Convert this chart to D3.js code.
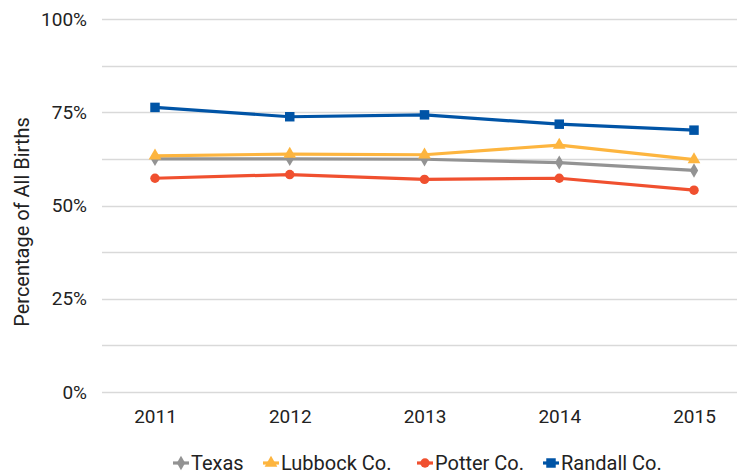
<!DOCTYPE html>
<html>
<head>
<meta charset="utf-8">
<script src="https://cdn.jsdelivr.net/npm/d3@7"></script>
<style>
  body { margin: 0; background: #fff; }
  #chart { width: 739px; height: 474px; font-family: Roboto, sans-serif; }
  text { fill: #222; }
</style>
</head>
<body>
<div id="chart"></div>
<script>
//Datos
let years = ['2011', '2012', '2013', '2014', '2015'];
let texas = [62.5, 62.5, 62.4, 61.5, 59.4];
let lubbock = [63.3, 63.8, 63.6, 66.2, 62.3];
let potter = [57.3, 58.3, 57.0, 57.3, 54.1];
let randall = [76.3, 73.8, 74.3, 71.8, 70.2];
let yTicks = [0, 25, 50, 75, 100];
let gridTicks = [0, 12.5, 25, 37.5, 50, 62.5, 75, 87.5, 100];

let series = [
    {name: 'Texas', values: texas, color: '#939393', symbol: d3.symbolDiamond, size: 60},
    {name: 'Lubbock Co.', values: lubbock, color: '#FDB53F', symbol: d3.symbolTriangle, size: 70},
    {name: 'Potter Co.', values: potter, color: '#F0502F', symbol: d3.symbolCircle, size: 70},
    {name: 'Randall Co.', values: randall, color: '#0054A6', symbol: d3.symbolSquare, size: 90}
];

let svg = d3.select('#chart').append('svg')
    .attr('width', 739)
    .attr('height', 474);

let plotLeft = 102, plotRight = 737;

//Escalas
let x = d3.scalePoint()
    .domain(years)
    .range([155, 694]);

let y = d3.scaleLinear()
    .domain([0, 100])
    .range([392, 19]);

//Rejilla
svg.append('g')
    .selectAll('line')
    .data(gridTicks)
    .enter()
    .append('line')
    .attr('x1', plotLeft)
    .attr('x2', plotRight)
    .attr('y1', function(d) { return Math.round(y(d)) + 0.5; })
    .attr('y2', function(d) { return Math.round(y(d)) + 0.5; })
    .style('stroke', '#d9d9d9')
    .style('stroke-width', 1.5);

//Eje Y
let yAxis = svg.append('g')
    .attr('transform', 'translate(' + plotLeft + ',0)')
    .call(d3.axisLeft(y).tickValues(yTicks).tickSize(0).tickPadding(15).tickFormat(function(d) { return d + '%'; }));
yAxis.select('.domain').remove();
yAxis.selectAll('.tick text')
    .style('font-size', '19px')
    .style('font-family', 'Roboto, sans-serif')
    .style('fill', '#222');

//Eje X
let xAxis = svg.append('g')
    .attr('transform', 'translate(0,392)')
    .call(d3.axisBottom(x).tickSize(0).tickPadding(18));
xAxis.select('.domain').remove();
xAxis.selectAll('.tick text')
    .style('font-size', '19px')
    .style('font-family', 'Roboto, sans-serif')
    .style('fill', '#222');

//Título eje Y
svg.append('text')
    .attr('transform', 'translate(29,222) rotate(-90)')
    .attr('text-anchor', 'middle')
    .style('font-size', '20px')
    .text('Percentage of All Births');

//Líneas
let line = d3.line()
    .x(function(d, i) { return x(years[i]); })
    .y(function(d) { return y(d); });

series.forEach(function(s) {
    svg.append('path')
        .datum(s.values)
        .attr('d', line)
        .style('fill', 'none')
        .style('stroke', s.color)
        .style('stroke-width', 3.2)
        .style('stroke-linejoin', 'round');

    svg.append('g')
        .selectAll('path')
        .data(s.values)
        .enter()
        .append('path')
        .attr('d', d3.symbol().type(s.symbol).size(s.size))
        .attr('transform', function(d, i) { return 'translate(' + x(years[i]) + ',' + y(d) + ')'; })
        .style('fill', s.color);
});

//Leyenda
let legendX = [181, 271, 425, 551];
let legend = svg.append('g');
series.forEach(function(s, i) {
    let g = legend.append('g').attr('transform', 'translate(' + legendX[i] + ',463)');
    g.append('line')
        .attr('x1', -8).attr('x2', 8)
        .style('stroke', s.color)
        .style('stroke-width', 3.2);
    g.append('path')
        .attr('d', d3.symbol().type(s.symbol).size(s.size))
        .style('fill', s.color);
    g.append('text')
        .attr('x', 10)
        .attr('dy', '0.35em')
        .style('font-size', '20px')
        .text(s.name);
});
</script>
</body>
</html>
